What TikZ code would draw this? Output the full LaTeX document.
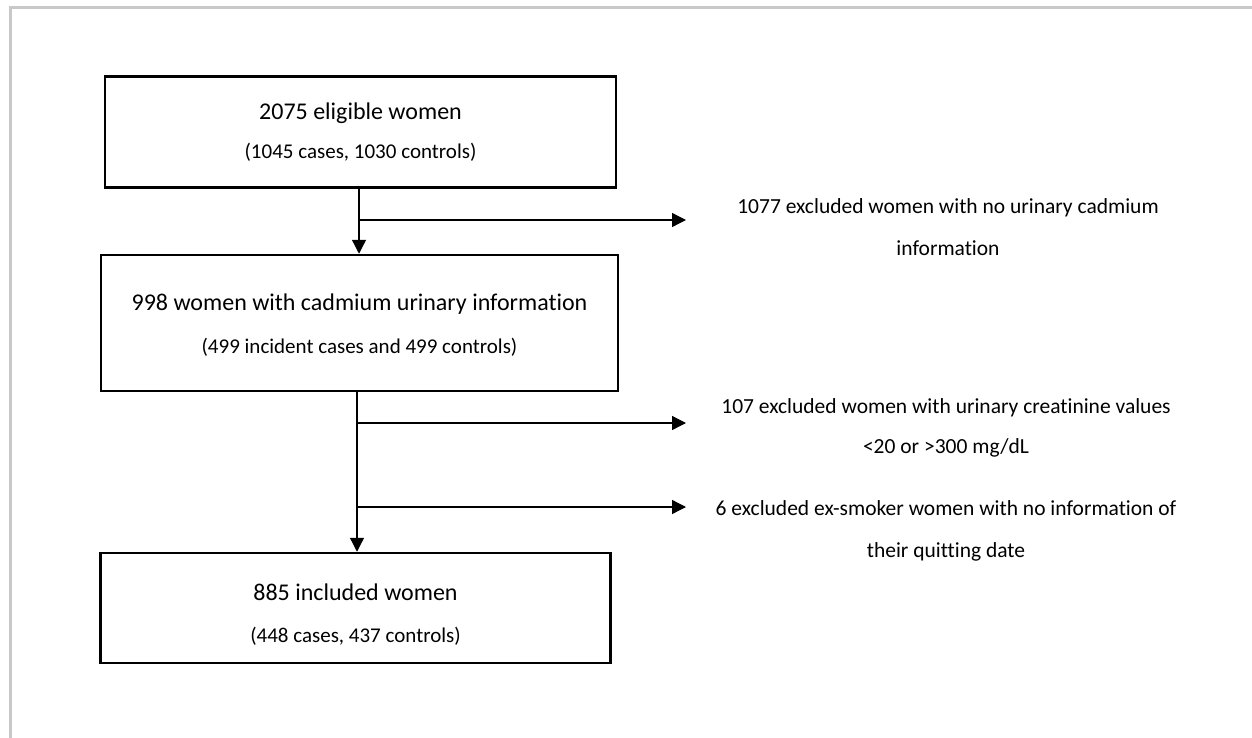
\documentclass[tikz,border=0pt]{standalone}
\usepackage{fontspec}
\setmainfont{Carlito}[Ligatures=NoCommon]
\usetikzlibrary{arrows.meta}
\tikzset{
  box/.style={draw=black, line width=2.5pt, inner sep=0pt, fill=none},
  maintext/.style={anchor=base, inner sep=0pt, font=\fontsize{24}{28}\selectfont},
  subtext/.style={anchor=base, inner sep=0pt, font=\fontsize{21}{25}\selectfont},
  sidetext/.style={anchor=base, inner sep=0pt, font=\fontsize{21.5}{25}\selectfont},
  conn/.style={draw=black, line width=1.3pt},
  arr/.style={conn, -{Triangle[length=14pt,width=14pt]}},
}
\begin{document}
\begin{tikzpicture}[x=1pt,y=-1pt]
\useasboundingbox (0,0) rectangle (1252,738);
% partial frame
\draw[color={rgb,255:red,200;green,200;blue,200}, line width=3pt] (10.5,738) -- (10.5,7.5) -- (1252,7.5);
% boxes
\node[box, minimum width=511pt, minimum height=111pt] (b1) at (360.5,132) {};
\node[box, minimum width=517pt, minimum height=136pt] (b2) at (359.5,323) {};
\node[box, minimum width=510pt, minimum height=110pt] (b3) at (355.5,608) {};
% box texts
\node[maintext] (b1a) at (360.5,120) {2075 eligible women};
\node[subtext] (b1b) at (360.5,158.5) {(1045 cases, 1030 controls)};
\node[maintext] (b2a) at (359.5,310) {998 women with cadmium urinary information};
\node[subtext] (b2b) at (359.5,353.5) {(499 incident cases and 499 controls)};
\node[maintext] (b3a) at (355.5,600) {885 included women};
\node[subtext] (b3b) at (355.5,642.5) {(448 cases, 437 controls)};
% side texts
\node[sidetext] (e1a) at (948,213.5) {1077 excluded women with no urinary cadmium};
\node[sidetext] (e1b) at (948,255.5) {information};
\node[sidetext] (e2a) at (946,413.5) {107 excluded women with urinary creatinine values};
\node[sidetext] (e2b) at (946,453.5) {<20 or >300 mg/dL};
\node[sidetext] (e3a) at (946,515.5) {6 excluded ex-smoker women with no information of};
\node[sidetext] (e3b) at (946,557.5) {their quitting date};
% connectors
\coordinate (t1) at (686,220);
\coordinate (t2) at (686,423);
\coordinate (t3) at (686,507);
\coordinate (s1) at (359,220);
\coordinate (s2) at (357,423);
\coordinate (s3) at (357,507);
\draw[arr] (b1.south -| s1) -- (b2.north -| s1);
\draw[arr] (s1) -- (t1);
\draw[arr] (b2.south -| s2) -- (b3.north -| s2);
\draw[arr] (s2) -- (t2);
\draw[arr] (s3) -- (t3);
\end{tikzpicture}
\end{document}
